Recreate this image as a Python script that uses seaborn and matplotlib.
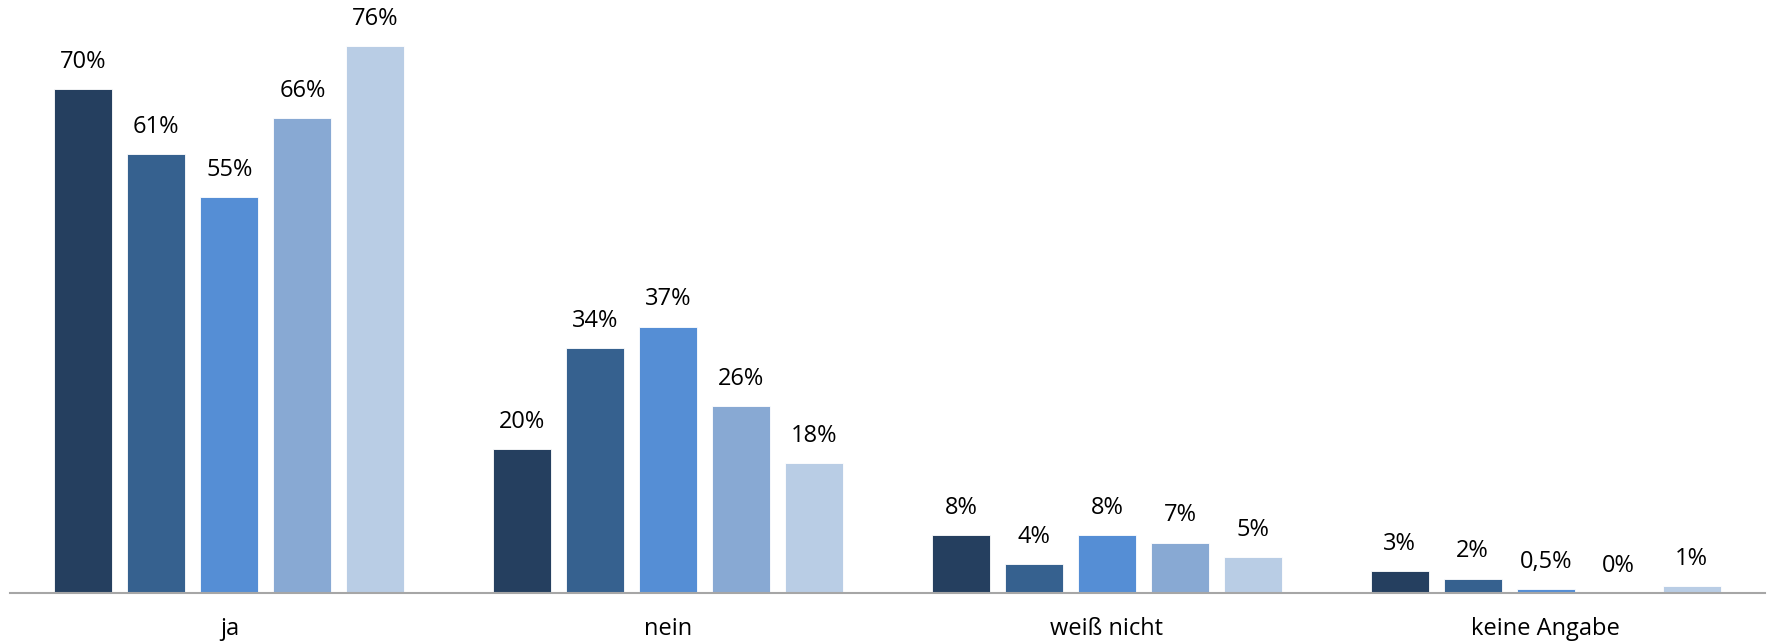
import matplotlib
matplotlib.use("Agg")
import matplotlib.pyplot as plt
import seaborn as sns
import pandas as pd

categories = ["ja", "nein", "weiß nicht", "keine Angabe"]
series = ["Gruppe 1", "Gruppe 2", "Gruppe 3", "Gruppe 4", "Gruppe 5"]
values = {
    "Gruppe 1": [70, 20, 8, 3],
    "Gruppe 2": [61, 34, 4, 2],
    "Gruppe 3": [55, 37, 8, 0.5],
    "Gruppe 4": [66, 26, 7, 0],
    "Gruppe 5": [76, 18, 5, 1],
}
colors = ["#253F5F", "#36618F", "#558ED5", "#88A9D3", "#B9CDE5"]

rows = []
for s in series:
    for c, v in zip(categories, values[s]):
        rows.append({"Antwort": c, "Gruppe": s, "Anteil": v})
df = pd.DataFrame(rows)

sns.set_style("white")
plt.rcParams["font.family"] = ["Open Sans", "DejaVu Sans"]

fig = plt.figure(figsize=(17.69, 6.41), dpi=100)
ax = fig.add_axes([10 / 1769, (641 - 593) / 641, 1755 / 1769, 593 / 641])

sns.barplot(data=df, x="Antwort", y="Anteil", hue="Gruppe", order=categories,
            hue_order=series, palette=colors, saturation=1, width=0.832,
            gap=0.205, edgecolor="white", linewidth=0.6, legend=False, ax=ax)

def fmt(v):
    if float(v).is_integer():
        return f"{int(v)}%"
    return f"{v}".replace(".", ",") + "%"

for container, s in zip(ax.containers, series):
    for bar, v in zip(container, values[s]):
        ax.annotate(fmt(v), (bar.get_x() + bar.get_width() / 2, v),
                    xytext=(0, 11), textcoords="offset points",
                    ha="center", va="bottom", fontsize=17, color="#000000")

ax.set_xlim(-0.5, 3.5)
ax.set_ylim(0, 593 / 7.2)
ax.set_xlabel("")
ax.set_ylabel("")
ax.set_yticks([])
ax.tick_params(axis="x", length=0, pad=17, labelsize=17, colors="#000000")
for side in ["top", "right", "left"]:
    ax.spines[side].set_visible(False)
ax.spines["bottom"].set_color("#A6A6A6")
ax.spines["bottom"].set_linewidth(1.5)

fig.savefig("out.png", dpi=100)
